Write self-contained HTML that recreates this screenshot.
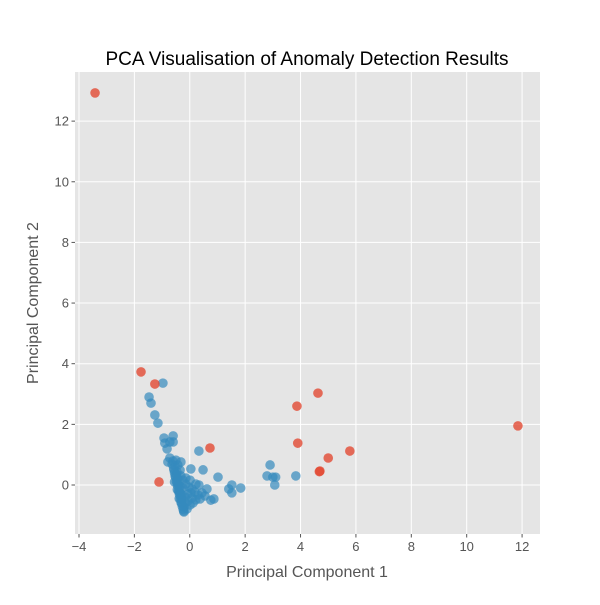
<!DOCTYPE html>
<html><head><meta charset="utf-8"><style>
body{margin:0;background:#fff;font-family:"Liberation Sans","DejaVu Sans",sans-serif}
</style></head><body>
<svg id="chart" width="600" height="600" xmlns="http://www.w3.org/2000/svg"></svg>
<script>
const xTicks=[-4,-2,0,2,4,6,8,10,12];
const yTicks=[0,2,4,6,8,10,12];
const anomalyX=[-3.42,-1.76,-1.26,-1.11,0.73,3.87,4.63,3.9,4.7,5.0,5.78,11.85,4.68];
const anomalyY=[12.93,3.73,3.33,0.1,1.22,2.6,3.03,1.38,0.46,0.89,1.12,1.95,0.44];
const normalX=[-0.97,-1.47,-1.4,-1.26,-1.15,-0.93,-0.9,-0.82,-0.6,-0.6,-0.72,0.33,0.04,0.48,1.02,1.41,1.52,1.52,1.84,2.9,2.79,3.0,3.1,3.07,3.83,0.76,0.87,
-0.61,-0.50,-0.64,-0.53,-0.43,-0.57,-0.46,-0.35,-0.53,-0.43,-0.32,-0.25,-0.46,-0.35,-0.25,-0.14,-0.03,0.08,-0.39,-0.28,-0.17,-0.07,0.04,0.19,0.30,-0.28,-0.17,-0.07,0.08,0.22,0.37,-0.21,-0.10,-0.21,0.01,0.12,0.44,0.55,0.62,0.33,0.22,-0.14,0.01,-0.32,-0.72,-0.79,-0.55,-0.45,-0.38,-0.30,
-0.58,-0.55,-0.51,-0.48,-0.44,-0.41,-0.37,-0.34,-0.31,-0.27,-0.24,-0.22,-0.48,-0.44,-0.40,-0.36,-0.33,-0.30];
const normalY=[3.36,2.9,2.7,2.31,2.04,1.55,1.38,1.19,1.62,1.42,1.42,1.12,0.53,0.5,0.26,-0.13,0,-0.26,-0.1,0.66,0.3,0.26,0.26,0,0.3,-0.5,-0.46,
0.79,0.82,0.69,0.63,0.66,0.49,0.43,0.49,0.30,0.23,0.30,0.16,0.07,-0.03,-0.10,0.03,-0.07,-0.13,-0.23,-0.33,-0.40,-0.30,-0.26,-0.23,-0.33,-0.49,-0.59,-0.53,-0.43,-0.49,-0.46,-0.73,-0.79,-0.89,-0.66,-0.59,-0.26,-0.36,-0.13,0,0.03,0.23,0.16,0.76,0.89,0.76,0.10,-0.15,-0.45,-0.60,
0.55,0.40,0.25,0.12,-0.02,-0.18,-0.32,-0.46,-0.58,-0.70,-0.80,-0.86,0.35,0.18,0.0,-0.15,-0.28,-0.40];
const NS="http://www.w3.org/2000/svg";
const svg=document.getElementById('chart');
const L=75,R=540,T=72,B=534,xmin=-4.144,xmax=12.647,ymin=-1.616,ymax=13.62;
const sx=v=>L+(v-xmin)/(xmax-xmin)*(R-L);
const sy=v=>B-(v-ymin)/(ymax-ymin)*(B-T);
function mk(tag,at,parent){const e=document.createElementNS(NS,tag);for(const k in at)e.setAttribute(k,at[k]);(parent||svg).appendChild(e);return e;}
const bg=mk('rect',{x:L,y:T,width:R-L,height:B-T,fill:'#E5E5E5'});


xTicks.forEach(t=>{const x=sx(t);
 const g=mk('line',{x1:x,x2:x,y1:T,y2:B,stroke:'#fff','stroke-width':1});
 
 
 mk('line',{x1:x,x2:x,y1:B,y2:B+3.5,stroke:'#555'});
 const tx=mk('text',{x:x,y:B+17,'text-anchor':'middle','font-size':13,fill:'#555'});tx.textContent=String(t).replace('-','−');
 
 });
yTicks.forEach(t=>{const y=sy(t);
 const g=mk('line',{x1:L,x2:R,y1:y,y2:y,stroke:'#fff','stroke-width':1});
 
 
 mk('line',{x1:L-3.5,x2:L,y1:y,y2:y,stroke:'#555'});
 const tx=mk('text',{x:L-6,y:y+4.5,'text-anchor':'end','font-size':13,fill:'#555'});tx.textContent=t;
 
 });
normalX.forEach((v,i)=>{const c=mk('circle',{cx:sx(v),cy:sy(normalY[i]),r:4.8,fill:'#348ABD','fill-opacity':0.7});
 
 });
anomalyX.forEach((v,i)=>{const c=mk('circle',{cx:sx(v),cy:sy(anomalyY[i]),r:4.8,fill:'#E24A33','fill-opacity':0.8});
 
 });
const ti=mk('text',{x:307,y:65,'text-anchor':'middle','font-size':19,fill:'#000'});ti.textContent='PCA Visualisation of Anomaly Detection Results';


const xl=mk('text',{x:307,y:577,'text-anchor':'middle','font-size':16,fill:'#555'});xl.textContent='Principal Component 1';


const yl=mk('text',{x:38,y:303,'text-anchor':'middle','font-size':16,fill:'#555',transform:'rotate(-90 38 303)'});yl.textContent='Principal Component 2';


</script>
</body></html>
